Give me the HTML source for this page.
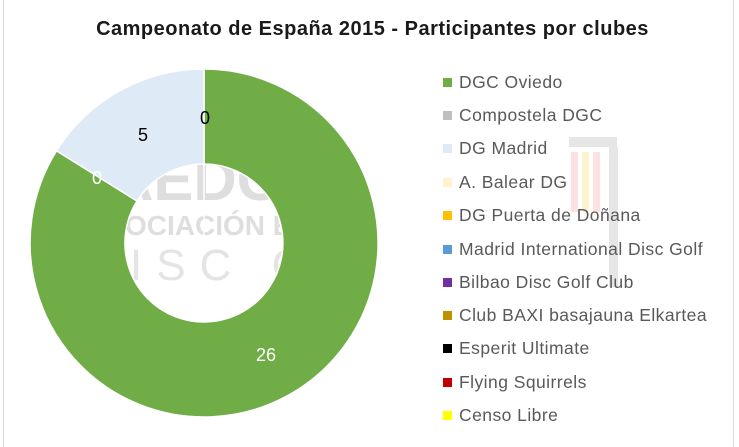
<!DOCTYPE html>
<html><head><meta charset="utf-8"><style>
body{margin:0;background:#fff;}
#c{position:relative;width:739px;height:447px;overflow:hidden;background:#fff;font-family:"Liberation Sans",sans-serif;}
.t{position:absolute;top:18px;left:0;width:745px;text-align:center;font-weight:bold;font-size:20px;letter-spacing:0.5px;color:#1a1a1a;}
.lg{position:absolute;left:443px;font-size:17.5px;letter-spacing:0.45px;color:#595959;white-space:nowrap;}
.lg i{display:inline-block;width:9px;height:9px;margin-right:7px;vertical-align:1px;}
</style></head><body><div id="c">
<div style="position:absolute;left:3px;top:0;width:1px;height:447px;background:#d9d9d9"></div>
<div style="position:absolute;left:733px;top:0;width:1px;height:447px;background:#d9d9d9"></div>
<svg width="739" height="447" style="position:absolute;left:0;top:0">
<g fill="#dedede" font-family="Liberation Sans,sans-serif" font-weight="bold">
<text x="110" y="200" font-size="60">AEDG</text>
<text x="125" y="235" font-size="28">OCIACIÓN ESP</text>
</g>
<text x="130" y="280" font-size="44" fill="#e4e4e4" font-family="Liberation Sans,sans-serif" letter-spacing="14">ISC G</text>
<rect x="569" y="137" width="48" height="10" fill="#e6e6e6"/>
<rect x="609" y="147" width="9" height="140" fill="#e6e6e6"/>
<rect x="571" y="152" width="7" height="60" fill="#fde0e0"/>
<rect x="582" y="152" width="7" height="60" fill="#fdf3cc"/>
<rect x="593" y="152" width="7" height="60" fill="#fde0e0"/>
<path d="M204,243 L204,69 A174,174 0 1 1 56.5,150.8 L137,201 A79,79 0 1 0 204,164 Z" fill="#70ad47" stroke="#fff" stroke-width="1.5"/>
<path d="M56.5,150.8 A174,174 0 0 1 204,69 L204,164 A79,79 0 0 0 137,201 Z" fill="#deebf7" stroke="#fff" stroke-width="1.5"/>
<g font-family="Liberation Sans,sans-serif" font-size="18">
<text x="143" y="141" text-anchor="middle" fill="#000">5</text>
<text x="205" y="124" text-anchor="middle" fill="#000">0</text>
<text x="97" y="184" text-anchor="middle" fill="#fff">0</text>
<text x="266" y="361" text-anchor="middle" fill="#fff">26</text>
</g></svg>
<div class="t">Campeonato de España 2015 - Participantes por clubes</div>
<div class="lg" style="top:72px"><i style="background:#70ad47"></i>DGC Oviedo</div>
<div class="lg" style="top:105px"><i style="background:#bfbfbf"></i>Compostela DGC</div>
<div class="lg" style="top:138px"><i style="background:#deebf7"></i>DG Madrid</div>
<div class="lg" style="top:172px"><i style="background:#fff2cc"></i>A. Balear DG</div>
<div class="lg" style="top:205px"><i style="background:#ffc000"></i>DG Puerta de Doñana</div>
<div class="lg" style="top:239px"><i style="background:#5b9bd5"></i>Madrid International Disc Golf</div>
<div class="lg" style="top:272px"><i style="background:#7030a0"></i>Bilbao Disc Golf Club</div>
<div class="lg" style="top:305px"><i style="background:#bf9000"></i>Club BAXI basajauna Elkartea</div>
<div class="lg" style="top:338px"><i style="background:#000"></i>Esperit Ultimate</div>
<div class="lg" style="top:372px"><i style="background:#c00000"></i>Flying Squirrels</div>
<div class="lg" style="top:405px"><i style="background:#ffff00"></i>Censo Libre</div>
</div></body></html>
